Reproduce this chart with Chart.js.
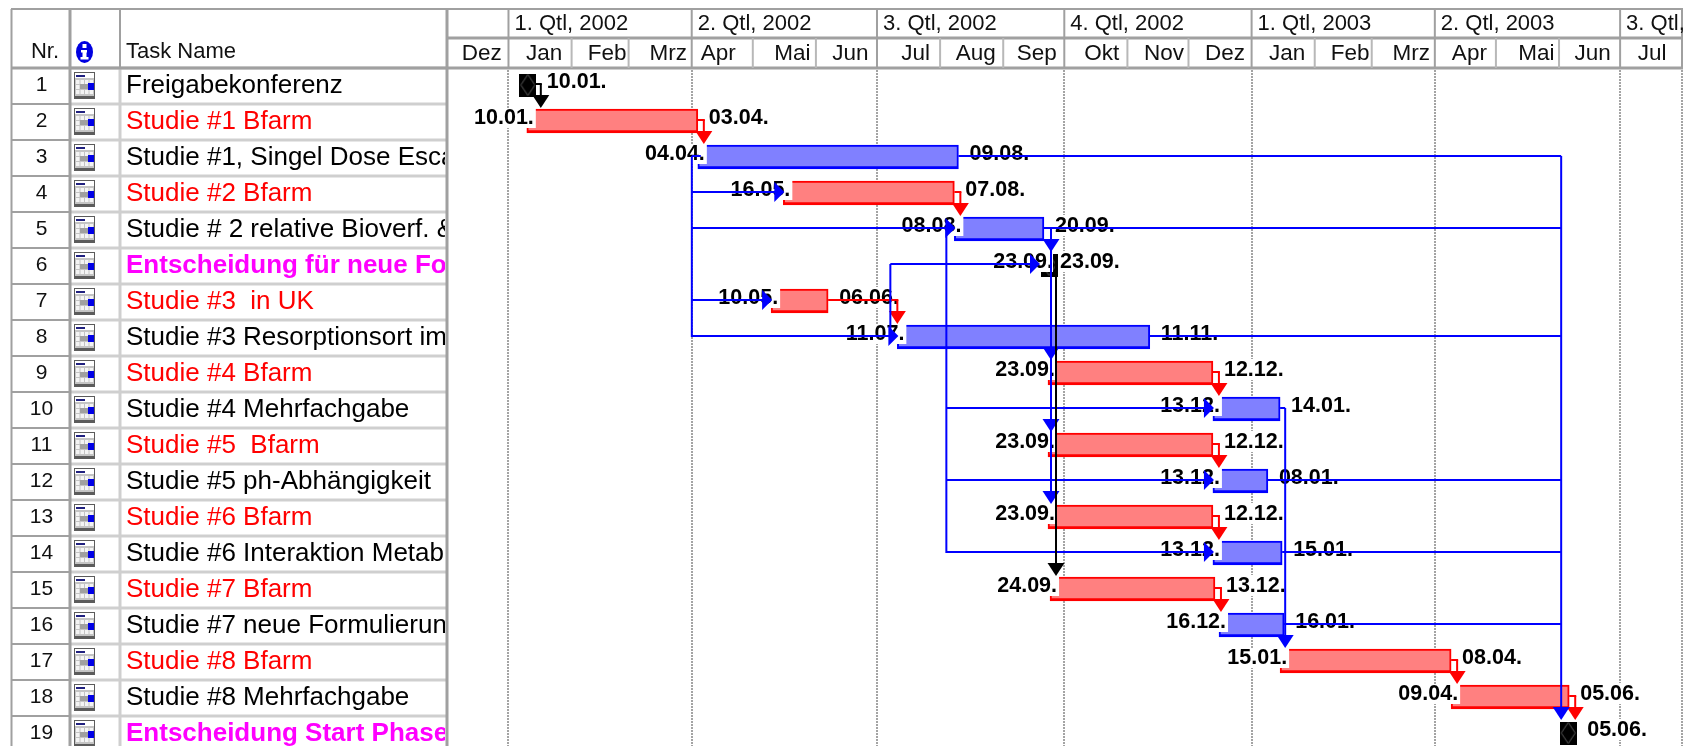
<!DOCTYPE html>
<html lang="de">
<head>
<meta charset="utf-8">
<title>Projektplan Studien 2002–2003</title>
<script src="https://cdn.jsdelivr.net/npm/chart.js@4/dist/chart.umd.min.js"></script>
<style>
  html, body { margin: 0; padding: 0; background: #fff; height: 746px; overflow: hidden; }
  #frame { width: 1691px; height: 752px; }
  canvas { display: block; }
</style>
</head>
<body>
<div id="frame"><canvas id="gantt" width="1691" height="752"></canvas></div>
<script>
// Task table
const taskNames = [
  'Freigabekonferenz', 'Studie #1 Bfarm', 'Studie #1, Singel Dose Esca', 'Studie #2 Bfarm',
  'Studie # 2 relative Bioverf. &', 'Entscheidung für neue For', 'Studie #3  in UK',
  'Studie #3 Resorptionsort im', 'Studie #4 Bfarm', 'Studie #4 Mehrfachgabe', 'Studie #5  Bfarm',
  'Studie #5 ph-Abhängigkeit', 'Studie #6 Bfarm', 'Studie #6 Interaktion Metab', 'Studie #7 Bfarm',
  'Studie #7 neue Formulierung', 'Studie #8 Bfarm', 'Studie #8 Mehrfachgabe', 'Entscheidung Start Phase'
];
const nameStyles = ['k','r','k','r','k','m','r','k','r','k','r','k','r','k','r','k','r','k','m'];
const taskStarts = [
  '2002-01-10','2002-01-10','2002-04-04','2002-05-16','2002-08-08','2002-09-23','2002-05-10',
  '2002-07-11','2002-09-23','2002-12-13','2002-09-23','2002-12-13','2002-09-23','2002-12-13',
  '2002-09-24','2002-12-16','2003-01-15','2003-04-09','2003-06-05'
];
const taskEnds = [
  '2002-01-10','2002-04-03','2002-08-09','2002-08-07','2002-09-20','2002-09-23','2002-06-06',
  '2002-11-11','2002-12-12','2003-01-14','2002-12-12','2003-01-08','2002-12-12','2003-01-15',
  '2002-12-13','2003-01-16','2003-04-08','2003-06-05','2003-06-05'
];
const barKinds = ['ms','crit','norm','crit','norm','ms','crit','norm','crit','norm','crit','norm','crit','norm','crit','norm','crit','crit','ms'];

// Timescale
const quarterStarts = ['2002-01-01','2002-04-01','2002-07-01','2002-10-01','2003-01-01','2003-04-01','2003-07-01'];
const quarterLabels = ['1. Qtl, 2002','2. Qtl, 2002','3. Qtl, 2002','4. Qtl, 2002','1. Qtl, 2003','2. Qtl, 2003','3. Qtl,'];
const monthStarts = ['2001-12-01','2002-01-01','2002-02-01','2002-03-01','2002-04-01','2002-05-01','2002-06-01','2002-07-01','2002-08-01','2002-09-01','2002-10-01','2002-11-01','2002-12-01','2003-01-01','2003-02-01','2003-03-01','2003-04-01','2003-05-01','2003-06-01','2003-07-01','2003-08-01'];
const monthLabels = ['Dez','Jan','Feb','Mrz','Apr','Mai','Jun','Jul','Aug','Sep','Okt','Nov','Dez','Jan','Feb','Mrz','Apr','Mai','Jun','Jul'];
const monthTextShift = [0,0,3,4,-8,4,0,3,0,-1,2,2,1,0,3,4,0,5,-1,-3];

// Task links, as zero-based row numbers
const finishStartLinks = [[0,1,'#000000'],[1,2,'#ff0000'],[3,4,'#ff0000'],[8,9,'#ff0000'],[10,11,'#ff0000'],[12,13,'#ff0000'],[14,15,'#ff0000'],[16,17,'#ff0000'],[17,18,'#ff0000']];
const milestoneFeeders = [2,4,7,11,13,15];
const studyOneBranches = [3,4,6,7];
const studyTwoBranches = [9,11,13];
const decisionBranches = [5,8,10,12];

const dayNumber = s => Math.round((Date.parse(s + 'T00:00:00Z') - Date.UTC(2002, 0, 1)) / 86400000);
const dayLabel = s => s.slice(8, 10) + '.' + s.slice(5, 7) + '.';
const startDays = taskStarts.map(dayNumber);
const endDays = taskEnds.map(dayNumber);

const FONT = '"Liberation Sans", Arial, sans-serif';
const GREY = '#a0a0a0';
const LIGHT = '#cfcfcf';
const BLUE = '#0000ff', RED = '#ff0000', BLACK = '#000000';

const barData = kind => barKinds.map((k, i) => k === kind ? [startDays[i], endDays[i] + 1] : null);

// Milestone symbol: a black block with a faint lozenge inside
function milestoneSymbol() {
  const c = document.createElement('canvas');
  c.width = 17; c.height = 23;
  const g = c.getContext('2d');
  g.fillStyle = '#000';
  g.fillRect(0, 0, 17, 23);
  g.strokeStyle = '#5a5a5a';
  g.lineWidth = 1;
  g.beginPath();
  g.moveTo(8.5, 1); g.lineTo(15.5, 11.5); g.lineTo(8.5, 22); g.lineTo(1.5, 11.5); g.closePath();
  g.stroke();
  return c;
}

function text(ctx, str, x, y, font, color, align) {
  ctx.font = font;
  ctx.fillStyle = color;
  ctx.textAlign = align || 'left';
  ctx.textBaseline = 'alphabetic';
  ctx.fillText(str, x, y);
}

function hLine(ctx, x0, x1, y, color, w) {
  ctx.fillStyle = color;
  ctx.fillRect(x0, y - w / 2, x1 - x0, w);
}
function vLine(ctx, x, y0, y1, color, w) {
  ctx.fillStyle = color;
  ctx.fillRect(x - w / 2, y0, w, y1 - y0);
}

function arrowDown(ctx, x, tipY, color) {
  ctx.fillStyle = color;
  ctx.beginPath();
  ctx.moveTo(x, tipY); ctx.lineTo(x - 8.5, tipY - 13); ctx.lineTo(x + 8.5, tipY - 13);
  ctx.closePath(); ctx.fill();
}
function arrowRight(ctx, tipX, y, color) {
  ctx.fillStyle = color;
  ctx.beginPath();
  ctx.moveTo(tipX, y); ctx.lineTo(tipX - 10, y - 10); ctx.lineTo(tipX - 10, y + 10);
  ctx.closePath(); ctx.fill();
}

// Small task-sheet symbol in the indicator column
function sheetIcon(ctx, x, y) {
  ctx.fillStyle = '#5c5c5c'; ctx.fillRect(x, y, 21, 27);
  ctx.fillStyle = '#c4c4c4'; ctx.fillRect(x + 1, y + 1, 19, 23);
  ctx.fillStyle = '#ffffff'; ctx.fillRect(x + 1, y + 1, 19, 5);
  ctx.fillStyle = '#20207f'; ctx.fillRect(x + 2, y + 3, 9, 2);
  ctx.fillStyle = '#f4f4f4';
  for (let r = 0; r < 3; r++) for (let c = 0; c < 4; c++) ctx.fillRect(x + 2 + c * 4.5, y + 8 + r * 5, 3.5, 4);
  ctx.fillStyle = '#a0a0a0'; ctx.fillRect(x + 6, y + 12, 8, 5);
  ctx.fillStyle = '#0000e6'; ctx.fillRect(x + 14, y + 11, 6, 7);
}

function infoIcon(ctx, cx, cy) {
  ctx.fillStyle = '#0000e0';
  ctx.beginPath(); ctx.ellipse(cx, cy, 8.5, 11, 0, 0, Math.PI * 2); ctx.fill();
  ctx.fillStyle = '#fff';
  ctx.fillRect(cx - 2, cy - 8, 4, 4);
  ctx.fillRect(cx - 3.5, cy - 2, 6, 2.5);
  ctx.fillRect(cx - 2, cy - 2, 4, 8);
  ctx.fillRect(cx - 4, cy + 5, 8, 2.5);
}

const ganttFrame = {
  id: 'ganttFrame',
  // date labels sit on white boxes over the bars, the links run on top of them
  afterDatasetsDraw(chart) {
    const ctx = chart.ctx, xs = chart.scales.x, ys = chart.scales.y;
    const X = d => xs.getPixelForValue(d);
    const Y = r => ys.getPixelForValue(r);
    const labelFont = 'bold 21.5px ' + FONT;
    ctx.save();
    ctx.font = labelFont;
    barKinds.forEach((kind, i) => {
      const cy = Y(i), isMs = kind === 'ms';
      const rightEdge = isMs ? X(endDays[i]) + 9 : X(endDays[i] + 1) + 1;
      const right = dayLabel(taskEnds[i]);
      const rw = ctx.measureText(right).width;
      const rx = rightEdge + (isMs ? (i === 5 ? 3 : 11) : 10);
      ctx.fillStyle = '#fff';
      ctx.fillRect(rx - 1, cy - 14, rw + 2, 21);
      text(ctx, right, rx, cy + 2.5, labelFont, BLACK);
      if (i === 0 || i === 18) return;
      const left = dayLabel(taskStarts[i]);
      const lw = ctx.measureText(left).width;
      const maskEnd = X(startDays[i]) + (isMs ? 5 : 9);
      const textEnd = X(startDays[i]) + (isMs ? 5 : 7);
      ctx.fillStyle = '#fff';
      ctx.fillRect(textEnd - lw - 1, cy - 13, maskEnd - textEnd + lw + 1, 20);
      text(ctx, left, textEnd, cy + 2.5, labelFont, BLACK, 'right');
    });

    const barEnd = i => X(endDays[i] + 1);
    const barStart = i => X(startDays[i]);
    const lineY = i => Y(i) - 1;
    const tipY = i => Y(i) - 13;

    // finish-to-start elbows between neighbouring rows
    finishStartLinks.forEach(([a, b, col]) => {
      const x0 = a === 0 ? X(endDays[0]) + 8 : barEnd(a);
      const x1 = a === 0 ? X(endDays[0]) + 14 : x0 + 6;
      hLine(ctx, x0, x1 + 1, lineY(a), col, 2);
      vLine(ctx, x1, lineY(a), tipY(b) - 8, col, 2);
      arrowDown(ctx, x1, tipY(b), col);
    });

    // row 7 into row 8
    hLine(ctx, barEnd(6), barStart(7) + 1, lineY(6), RED, 2);
    vLine(ctx, barStart(7), lineY(6), tipY(7) - 8, RED, 2);
    arrowDown(ctx, barStart(7), tipY(7), RED);

    // starts fanning out of study 1
    const fan1 = barStart(2) - 6;
    vLine(ctx, fan1, lineY(2), lineY(7) + 1, BLUE, 2);
    hLine(ctx, fan1, barStart(2) + 3, lineY(2), BLUE, 2);
    studyOneBranches.forEach(i => {
      hLine(ctx, fan1, barStart(i) - 6, lineY(i), BLUE, 2);
      arrowRight(ctx, barStart(i) + 1, lineY(i), BLUE);
    });

    // starts fanning out of study 2
    const fan2 = barStart(4) - 8;
    vLine(ctx, fan2, lineY(4), lineY(13) + 1, BLUE, 2);
    studyTwoBranches.forEach(i => {
      hLine(ctx, fan2, barStart(i) - 6, lineY(i), BLUE, 2);
      arrowRight(ctx, barStart(i) + 1, lineY(i), BLUE);
    });

    // decision row and study 3
    const ms5 = X(startDays[5]);
    const fan3 = barStart(7) - 7;
    vLine(ctx, fan3, lineY(5), lineY(7), BLUE, 2);
    hLine(ctx, fan3, ms5 - 12, lineY(5), BLUE, 2);
    arrowRight(ctx, ms5 - 8, lineY(5), BLUE);

    // decision feeding the Bfarm rows
    const dec = ms5 + 3;
    hLine(ctx, barEnd(4), dec + 1, lineY(4), BLUE, 2);
    vLine(ctx, dec, lineY(4), tipY(12) - 8, BLUE, 2);
    decisionBranches.forEach(i => arrowDown(ctx, dec, tipY(i), BLUE));

    // decision into study 7 Bfarm
    vLine(ctx, ms5 + 8, Y(5) - 8, tipY(14) - 8, BLACK, 2);
    arrowDown(ctx, ms5 + 8, tipY(14), BLACK);

    // studies 4 and 7 into study 8 Bfarm
    const bus17 = barEnd(15) + 1;
    hLine(ctx, barEnd(9), bus17, lineY(9), BLUE, 2);
    vLine(ctx, bus17, lineY(9), tipY(16) - 8, BLUE, 2);
    arrowDown(ctx, bus17, tipY(16), BLUE);

    // everything collecting into the closing decision
    const busEnd = X(startDays[18]) - 6;
    milestoneFeeders.forEach(i => hLine(ctx, barEnd(i), busEnd, lineY(i), BLUE, 2));
    vLine(ctx, busEnd, lineY(2), tipY(18) - 8, BLUE, 2);
    arrowDown(ctx, busEnd, tipY(18), BLUE);
    ctx.restore();
  },
  afterDraw(chart) {
    const ctx = chart.ctx, xs = chart.scales.x, ys = chart.scales.y;
    const X = d => xs.getPixelForValue(d);
    const left = chart.chartArea.left, right = chart.chartArea.right;
    const rowTop = i => ys.getPixelForValue(i) - 17;
    ctx.save();

    // task table
    ctx.fillStyle = '#fff';
    ctx.fillRect(0, 0, left, chart.height);
    ctx.fillRect(left, 0, right - left, 67);
    const nameFont = '26px ' + FONT, numFont = '21px ' + FONT;
    taskNames.forEach((name, i) => {
      const top = rowTop(i);
      hLine(ctx, 70, left, top, LIGHT, 3);
      hLine(ctx, 11, 70, top, GREY, 2);
      text(ctx, String(i + 1), 41.5, top + 23, numFont, '#111', 'center');
      sheetIcon(ctx, 74, top + 4);
      ctx.save();
      ctx.beginPath(); ctx.rect(121, top, left - 123, 36); ctx.clip();
      const st = nameStyles[i];
      text(ctx, name, 126, top + 25, (st === 'm' ? 'bold ' : '') + nameFont,
        st === 'r' ? RED : st === 'm' ? '#ff00ff' : BLACK);
      ctx.restore();
    });

    // columns
    vLine(ctx, 11.5, 9, chart.height, GREY, 2);
    vLine(ctx, 70, 9, chart.height, GREY, 3);
    vLine(ctx, 120, 68, chart.height, LIGHT, 3);
    vLine(ctx, 120, 9, 68, GREY, 2);
    vLine(ctx, left, 9, chart.height, GREY, 3);

    // timescale header
    hLine(ctx, 11, right + 1, 9, GREY, 2);
    hLine(ctx, left, right + 1, 38, GREY, 3);
    hLine(ctx, 11, right + 1, 68, GREY, 3);
    vLine(ctx, right, 9, 68, GREY, 2);
    const headFont = '22px ' + FONT, monthFont = '22.5px ' + FONT;
    monthLabels.forEach((m, i) => {
      const x0 = Math.max(X(dayNumber(monthStarts[i])), left);
      const x1 = Math.min(X(dayNumber(monthStarts[i + 1])), right);
      if (i > 0) vLine(ctx, x0, 38, 68, i % 3 === 1 ? GREY : '#b8b8b8', 2);
      text(ctx, m, (x0 + x1) / 2 + 4 + monthTextShift[i], 60, monthFont, '#111', 'center');
    });
    quarterLabels.forEach((q, i) => {
      const x = X(dayNumber(quarterStarts[i]));
      vLine(ctx, x, 9, 38, GREY, 2);
      text(ctx, q, x + 6, 30, headFont, '#111');
    });

    text(ctx, 'Nr.', 59, 58, headFont, '#111', 'right');
    text(ctx, 'Task Name', 126, 58, headFont, '#111');
    infoIcon(ctx, 84.5, 52);
    ctx.restore();
  }
};

new Chart(document.getElementById('gantt'), {
  type: 'bar',
  plugins: [ganttFrame],
  data: {
    labels: taskNames,
    datasets: [
      {
        label: 'Meilensteine',
        type: 'scatter',
        data: barKinds.map((k, i) => k === 'ms' ? { x: startDays[i] + 0.5, y: taskNames[i] } : null).filter(Boolean),
        pointStyle: milestoneSymbol(),
        pointRadius: 8,
        showLine: false,
        clip: false,
        order: 0
      },
      {
        label: 'Kritisch',
        data: barData('crit'),
        backgroundColor: '#ff8080',
        borderColor: '#ff0000',
        borderWidth: { top: 2, left: 2, right: 2, bottom: 3 },
        borderSkipped: false,
        barThickness: 24,
        grouped: false,
        order: 1
      },
      {
        label: 'Vorgang',
        data: barData('norm'),
        backgroundColor: '#8080ff',
        borderColor: '#0000ff',
        borderWidth: { top: 2, left: 2, right: 2, bottom: 3 },
        borderSkipped: false,
        barThickness: 24,
        grouped: false,
        order: 1
      }
    ]
  },
  options: {
    indexAxis: 'y',
    responsive: false,
    maintainAspectRatio: false,
    animation: false,
    events: [],
    layout: { autoPadding: false, padding: { left: 447, top: 67, right: 9, bottom: 1 } },
    plugins: { legend: { display: false }, tooltip: { enabled: false } },
    scales: {
      x: {
        type: 'linear',
        position: 'top',
        min: -30.2,
        max: 576.4,
        afterBuildTicks: s => {
          s.ticks = quarterStarts.map(dayNumber).map(value => ({ value }));
          s.ticks.push({ value: s.max });
        },
        afterFit: s => { s.height = 0; },
        ticks: { display: false },
        border: { display: false, dash: [2, 1] },
        grid: { color: '#a4a4a4', lineWidth: 2, drawTicks: false, drawOnChartArea: true }
      },
      y: {
        type: 'category',
        display: false,
        offset: true,
        grid: { display: false }
      }
    }
  }
});
</script>
</body>
</html>
